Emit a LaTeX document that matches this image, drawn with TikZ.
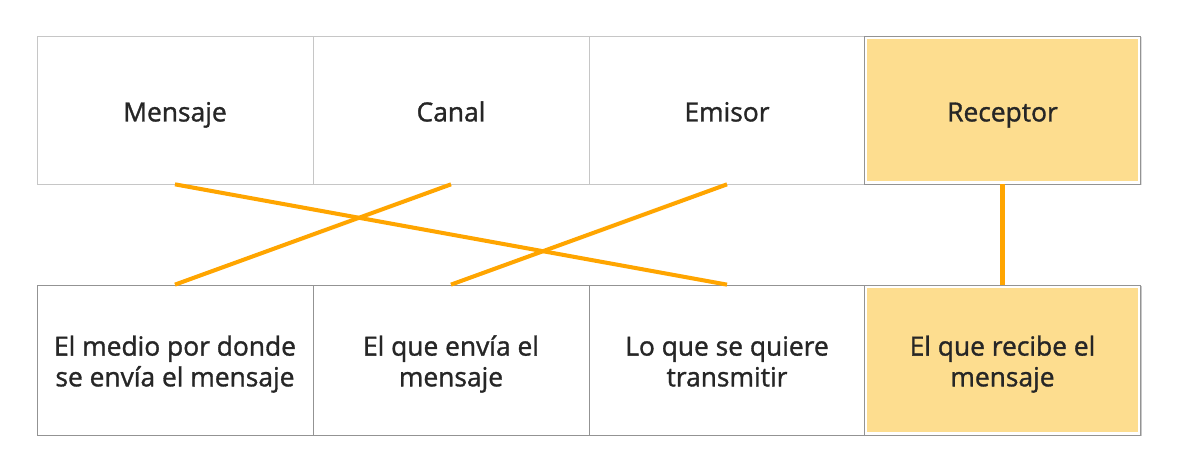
\documentclass[tikz,border=0pt]{standalone}
\usepackage{fontspec}
\setmainfont{Open Sans}
\newfontfamily\labelfont{Open Sans}[FakeBold=1.2]
\usepackage{xcolor}
\usepackage{tikz}
\usetikzlibrary{shadows}

\definecolor{pickfill}{HTML}{FDDD8F}
\definecolor{linkorange}{HTML}{FFA500}
\definecolor{inktext}{HTML}{262626}
\newcommand\tstrut{\vrule width 0pt height 16.5pt depth 4pt}
\AtBeginDocument{\lineskiplimit=-20pt\relax}

\begin{document}
\begin{tikzpicture}[
  term/.style={draw=gray!45, fill=white, minimum width=5.52cm, minimum height=2.96cm,
    inner sep=0pt, text height=14pt, text depth=1pt,
    font=\labelfont\fontsize{15}{17.5}\selectfont, text=inktext},
  meaning/.style={term, draw=gray!85, minimum height=3cm, align=center,
    text height=, text depth=,
    drop shadow={opacity=0.25, shadow xshift=0.6pt, shadow yshift=-0.6pt}},
  chosen/.style={fill=pickfill, draw=gray!85,
    drop shadow={opacity=0.25, shadow xshift=0.6pt, shadow yshift=-0.6pt},
    path picture={\draw[white, line width=3pt]
      (path picture bounding box.south west) rectangle
      (path picture bounding box.north east);}},
  link/.style={draw=linkorange, line width=2.3pt},
]
  \useasboundingbox (0,0) rectangle (23.54,9.48);
  % top row
  \node[term] (mensaje)  at (3.50, 7.28) {Mensaje};
  \node[term] (canal)    at (9.02, 7.28) {Canal};
  \node[term] (emisor)   at (14.54, 7.28) {Emisor};
  \node[term, chosen] (receptor) at (20.05, 7.28) {Receptor};
  % bottom row
  \node[meaning] (medio)      at (3.50, 2.28)
    {\tstrut El medio por donde\\\tstrut se envía el mensaje};
  \node[meaning] (envia)      at (9.02, 2.28)
    {\tstrut El que envía el\\\tstrut mensaje};
  \node[meaning] (transmitir) at (14.54, 2.28)
    {\tstrut Lo que se quiere\\\tstrut transmitir};
  \node[meaning, chosen] (recibe) at (20.05, 2.28)
    {\tstrut El que recibe el\\\tstrut mensaje};
  % links
  \draw[link] (mensaje.south)  -- (transmitir.north);
  \draw[link] (canal.south)    -- (medio.north);
  \draw[link] (emisor.south)   -- (envia.north);
  \draw[link] (receptor.south) -- (recibe.north);
\end{tikzpicture}
\end{document}
